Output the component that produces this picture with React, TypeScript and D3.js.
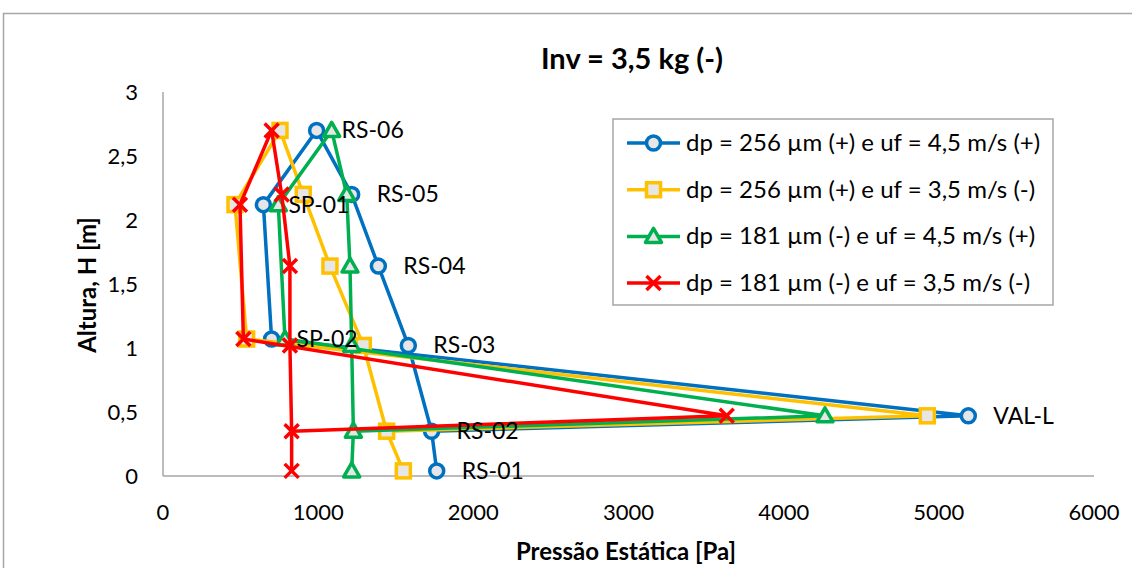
import React from "react";
import * as d3 from "d3";

// measuring points, bottom to top
const stations = ["RS-01", "RS-02", "VAL-L", "RS-03", "SP-02", "RS-04", "SP-01", "RS-05", "RS-06"];
const heights = [0.04, 0.35, 0.47, 1.02, 1.07, 1.64, 2.12, 2.2, 2.7];
// order in which the loop is traced
const pathOrder = ["RS-01", "RS-02", "RS-03", "RS-04", "RS-05", "RS-06", "SP-01", "SP-02", "VAL-L", "RS-02"];

// pressure [Pa] per station (same order as stations)
const blueVals = [1764, 1731, 5190, 1581, 700, 1388, 647, 1216, 990];
const yellowVals = [1549, 1441, 4926, 1291, 539, 1076, 464, 904, 754];
const greenVals = [1216, 1227, 4266, 1216, 786, 1205, 743, 1184, 1087];
const redVals = [829, 829, 3633, 818, 518, 818, 496, 765, 700];

const seriesNames = [
  "dp = 256 µm (+) e uf = 4,5 m/s (+)",
  "dp = 256 µm (+) e uf = 3,5 m/s (-)",
  "dp = 181 µm (-) e uf = 4,5 m/s (+)",
  "dp = 181 µm (-) e uf = 3,5 m/s (-)",
];
const seriesColors = ["#0070C0", "#FFC000", "#00B050", "#FF0000"];
const seriesMarkers = ["circle", "square", "triangle", "x"];
const seriesValues = [blueVals, yellowVals, greenVals, redVals];

const xTicks = [0, 1000, 2000, 3000, 4000, 5000, 6000];
const yTicks = [0, 0.5, 1, 1.5, 2, 2.5, 3];

const W = 1132;
const H = 568;
const plot = { left: 163, right: 1094, top: 92, bottom: 476 };
const font = "Lato, 'Open Sans', sans-serif";

const fmt = (v: number) => String(v).replace(".", ",");

const Marker = ({ type, color, x, y }: { type: string; color: string; x: number; y: number }) => {
  const fill = "#E6E6E6";
  if (type === "circle")
    return <circle cx={x} cy={y} r={7} fill={fill} stroke={color} strokeWidth={3.5} />;
  if (type === "square")
    return <rect x={x - 7} y={y - 7} width={14} height={14} fill={fill} stroke={color} strokeWidth={3.5} />;
  if (type === "triangle")
    return (
      <path
        d={`M${x},${y - 8} L${x + 8},${y + 6} L${x - 8},${y + 6} Z`}
        fill={fill}
        stroke={color}
        strokeWidth={3.5}
        strokeLinejoin="round"
      />
    );
  return (
    <path
      d={`M${x - 7},${y - 7} L${x + 7},${y + 7} M${x - 7},${y + 7} L${x + 7},${y - 7}`}
      stroke={color}
      strokeWidth={3.5}
    />
  );
};

export default function App() {
  const x = d3.scaleLinear().domain([0, 6000]).range([plot.left, plot.right]);
  const y = d3.scaleLinear().domain([0, 3]).range([plot.bottom, plot.top]);

  const legendX = 613;
  const legendY = 119;

  return (
    <svg
      width={W}
      height={H}
      style={{ position: "absolute", left: 0, top: 0, background: "#fff" }}
      fontFamily={font}
    >
      <rect x={3.5} y={13.5} width={W + 10} height={H + 10} fill="#fff" stroke="#A6A6A6" strokeWidth={1.5} />

      <text x={632} y={69} textAnchor="middle" fontSize={29} fontWeight="bold" fill="#000">
        Inv = 3,5 kg (-)
      </text>

      {/* axes */}
      <line x1={plot.left} x2={plot.left} y1={plot.top} y2={plot.bottom} stroke="#A6A6A6" strokeWidth={1.5} />
      <line x1={plot.left} x2={plot.right} y1={plot.bottom} y2={plot.bottom} stroke="#A6A6A6" strokeWidth={1.5} />

      {yTicks.map((t) => (
        <text key={t} x={plot.left - 25} y={y(t) + 8} textAnchor="end" fontSize={22} fill="#000">
          {fmt(t)}
        </text>
      ))}
      {xTicks.map((t) => (
        <text key={t} x={x(t)} y={520} textAnchor="middle" fontSize={22} fill="#000">
          {t}
        </text>
      ))}

      <text x={626} y={560} textAnchor="middle" fontSize={24} fontWeight="bold" fill="#000">
        Pressão Estática [Pa]
      </text>
      <text
        transform={`translate(96,285) rotate(-90)`}
        textAnchor="middle"
        fontSize={24}
        fontWeight="bold"
        fill="#000"
      >
        Altura, H [m]
      </text>

      {/* series */}
      {seriesValues.map((vals, si) => {
        const pathLine = d3
          .line<string>()
          .x((s) => x(vals[stations.indexOf(s)]))
          .y((s) => y(heights[stations.indexOf(s)]));
        return (
          <g key={si}>
            <path d={pathLine(pathOrder) || ""} fill="none" stroke={seriesColors[si]} strokeWidth={3.5} strokeLinejoin="round" />
            {stations.map((s, i) => (
              <Marker key={s} type={seriesMarkers[si]} color={seriesColors[si]} x={x(vals[i])} y={y(heights[i])} />
            ))}
          </g>
        );
      })}

      {/* data labels of the first series */}
      {stations.map((s, i) => (
        <text key={s} x={x(blueVals[i]) + 25} y={y(heights[i]) + 8} fontSize={23} fill="#000">
          {s}
        </text>
      ))}

      {/* legend */}
      <rect x={legendX} y={legendY} width={440} height={186} fill="#fff" stroke="#A6A6A6" strokeWidth={1.5} />
      {seriesNames.map((n, i) => {
        const cy = legendY + 24 + i * 46.7;
        return (
          <g key={n}>
            <line x1={627} x2={680} y1={cy} y2={cy} stroke={seriesColors[i]} strokeWidth={3.5} />
            <Marker type={seriesMarkers[i]} color={seriesColors[i]} x={653.5} y={cy} />
            <text x={686} y={cy + 8} fontSize={24} fill="#000">
              {n}
            </text>
          </g>
        );
      })}
    </svg>
  );
}
